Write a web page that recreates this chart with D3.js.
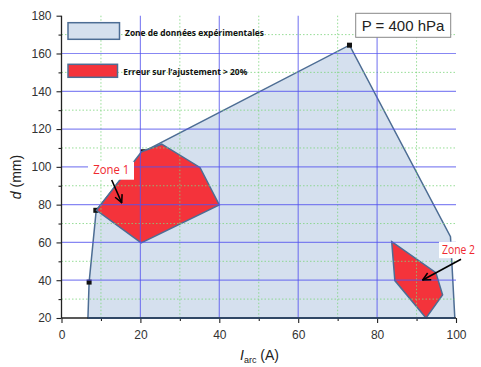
<!DOCTYPE html>
<html><head><meta charset="utf-8">
<script src="https://cdn.jsdelivr.net/npm/d3@7"></script>
<style>body{margin:0;background:#fff}svg{display:block}</style>
</head><body>
<svg id="c" width="481" height="367"></svg>
<script>
// ---- data ----
const xTicks = [0, 20, 40, 60, 80, 100];
const yTicks = [20, 40, 60, 80, 100, 120, 140, 160, 180];
const xMinor = [10, 30, 50, 70, 90];
const yMinor = [30, 50, 70, 90, 110, 130, 150, 170];
const expX = [6.7, 7.0, 8.8, 20.7, 73.0, 98.6, 99.7];
const expY = [20, 39, 77, 108, 164.4, 63, 20];
const markX = [7.0, 8.7, 20.7, 73.0];
const markY = [39, 77, 108, 164.4];
const zone1X = [8.9, 20.3, 25.4, 35.1, 40.0, 20.2];
const zone1Y = [77, 108, 112, 99.7, 79.8, 59.8];
const zone2X = [83.7, 94.9, 96.6, 92.4, 84.5];
const zone2Y = [60.4, 44, 32.2, 20, 39.8];
const legendLabels = ["Zone de données expérimentales", "Erreur sur l\u2019ajustement > 20%"];
const zoneLabels = ["Zone 1", "Zone 2"];

const svg = d3.select("#c");
const x = d3.scaleLinear().domain([0, 100]).range([61.5, 456]);
const y = d3.scaleLinear().domain([20, 180]).range([318, 15.7]);

const fillBlue = "#d5e0ee", strokeBlue = "#4d6d94", red = "#f4333b";

const pts = (xs, ys) => xs.map((v, i) => [x(v), y(ys[i])]);
const line = d3.line().curve(d3.curveLinearClosed);

// experimental zone
svg.append("path").attr("d", line(pts(expX, expY)))
  .attr("fill", fillBlue).attr("stroke", strokeBlue).attr("stroke-width", 1.5);

// markers
svg.append("g").selectAll("rect").data(markX).join("rect")
  .attr("x", (d) => x(d) - 2.5).attr("y", (d, i) => y(markY[i]) - 2.5)
  .attr("width", 5).attr("height", 5).attr("fill", "#111");

// red zones
[[zone1X, zone1Y], [zone2X, zone2Y]].forEach(([xs, ys]) => {
  svg.append("path").attr("d", line(pts(xs, ys)))
    .attr("fill", red).attr("stroke", strokeBlue).attr("stroke-width", 1.5);
});

// grid (over polygons, semi-transparent)
const g = svg.append("g");
g.selectAll(".vmin").data(xMinor).join("line")
  .attr("x1", d => x(d)).attr("x2", d => x(d)).attr("y1", y(180)).attr("y2", y(20))
  .attr("stroke", "#7ed67e").attr("stroke-width", 1).attr("stroke-dasharray", "1.5,2").attr("opacity", 0.8);
g.selectAll(".hmin").data(yMinor).join("line")
  .attr("x1", x(0)).attr("x2", x(100)).attr("y1", d => y(d)).attr("y2", d => y(d))
  .attr("stroke", "#7ed67e").attr("stroke-width", 1).attr("stroke-dasharray", "1.5,2").attr("opacity", 0.8);
g.selectAll(".vmaj").data(xTicks.filter(d => d > 0 && d < 100)).join("line")
  .attr("x1", d => x(d)).attr("x2", d => x(d)).attr("y1", y(180)).attr("y2", y(20))
  .attr("stroke", "#5555ee").attr("stroke-width", 1.2).attr("opacity", 0.7);
g.selectAll(".hmaj").data(yTicks.filter(d => d > 20 && d < 180)).join("line")
  .attr("x1", x(0)).attr("x2", x(100)).attr("y1", d => y(d)).attr("y2", d => y(d))
  .attr("stroke", "#5555ee").attr("stroke-width", 1.2).attr("opacity", 0.7);

// axes
const axFont = "Liberation Sans, Arial, sans-serif";
const ax = svg.append("g").attr("transform", `translate(0,${y(20)})`)
  .call(d3.axisBottom(x).tickValues(xTicks).tickSize(5).tickPadding(7).tickFormat(d3.format("d")));
const axm = svg.append("g").attr("transform", `translate(0,${y(20)})`)
  .call(d3.axisBottom(x).tickValues(xMinor).tickSize(3).tickFormat(""));
const ay = svg.append("g").attr("transform", `translate(${x(0)},0)`)
  .call(d3.axisLeft(y).tickValues(yTicks).tickSize(5).tickPadding(5).tickFormat(d3.format("d")));
const aym = svg.append("g").attr("transform", `translate(${x(0)},0)`)
  .call(d3.axisLeft(y).tickValues(yMinor).tickSize(3).tickFormat(""));
[ax, axm, ay, aym].forEach(a => {
  a.select(".domain").attr("stroke", "#222").attr("stroke-width", 1.3);
  a.selectAll(".tick line").attr("stroke", "#222").attr("stroke-width", 1.1);
  a.selectAll("text").attr("font-family", axFont).attr("font-size", 12).attr("fill", "#333");
});
ax.select(".domain").attr("d", `M${x(0)},0H${x(100)}`);
axm.select(".domain").remove();
aym.select(".domain").remove();
ay.select(".domain").attr("d", `M0,${y(20)}V${y(180)}`);
svg.append("line").attr("x1", x(expX[0])).attr("x2", x(expX[expX.length-1])).attr("y1", y(20)).attr("y2", y(20))
  .attr("stroke", "#2f4b70").attr("stroke-width", 1.3);

// axis titles
const yt = svg.append("text").attr("transform", `translate(21,177) rotate(-90)`)
  .attr("text-anchor", "middle").attr("font-family", axFont).attr("font-size", 14).attr("fill", "#222");
yt.append("tspan").attr("font-style", "italic").text("d");
yt.append("tspan").text("  (mm)");
const xt = svg.append("text").attr("x", 240).attr("y", 360)
  .attr("font-family", axFont).attr("font-size", 14).attr("fill", "#222");
xt.append("tspan").attr("font-style", "italic").text("I");
xt.append("tspan").attr("font-size", 9).attr("dy", 3).text("arc");
xt.append("tspan").attr("dy", -3).text(" (A)");

// legend
const legFont = "'Open Sans', 'Noto Sans', sans-serif";
svg.append("rect").attr("x", 68).attr("y", 22.7).attr("width", 51.5).attr("height", 16.6)
  .attr("fill", fillBlue).attr("stroke", strokeBlue).attr("stroke-width", 1.5);
svg.append("rect").attr("x", 68).attr("y", 64.3).attr("width", 49.5).attr("height", 13)
  .attr("fill", red).attr("stroke", strokeBlue).attr("stroke-width", 1.5);
svg.append("text").attr("x", 125).attr("y", 36).attr("font-family", legFont).attr("font-weight", "bold")
  .attr("font-size", 9).attr("fill", "#111").attr("textLength", 139).attr("lengthAdjust", "spacingAndGlyphs")
  .text(legendLabels[0]);
svg.append("text").attr("x", 123.3).attr("y", 75).attr("font-family", legFont).attr("font-weight", "bold")
  .attr("font-size", 9).attr("fill", "#111").attr("textLength", 124).attr("lengthAdjust", "spacingAndGlyphs")
  .text(legendLabels[1]);

// pressure box
svg.append("rect").attr("x", 355.7).attr("y", 13.3).attr("width", 95).attr("height", 24)
  .attr("fill", "#fff").attr("stroke", "#888").attr("stroke-width", 1);
svg.append("text").attr("x", 403).attr("y", 30.5).attr("text-anchor", "middle")
  .attr("font-family", axFont).attr("font-size", 15).attr("fill", "#222").text("P = 400 hPa");

// zone labels with white boxes and arrows
svg.append("defs").append("marker").attr("id", "ah").attr("viewBox", "0 0 10 10")
  .attr("refX", 9).attr("refY", 5).attr("markerWidth", 6).attr("markerHeight", 6).attr("orient", "auto")
  .append("path").attr("d", "M1,1L9,5L1,9").attr("fill", "none").attr("stroke", "#000").attr("stroke-width", 1.6);
svg.append("rect").attr("x", 88).attr("y", 161.7).attr("width", 46).attr("height", 18).attr("fill", "#fff");
svg.append("rect").attr("x", 439).attr("y", 241.7).attr("width", 42).attr("height", 16.5).attr("fill", "#fff");
svg.append("text").attr("x", 93.3).attr("y", 173.8).attr("font-family", legFont).attr("font-size", 12)
  .attr("fill", "#f0282f").attr("textLength", 36).attr("lengthAdjust", "spacingAndGlyphs").text(zoneLabels[0]);
svg.append("text").attr("x", 442).attr("y", 253.5).attr("font-family", legFont).attr("font-size", 12)
  .attr("fill", "#f0282f").attr("textLength", 33).attr("lengthAdjust", "spacingAndGlyphs").text(zoneLabels[1]);
svg.append("line").attr("x1", 461).attr("y1", 259.3).attr("x2", 422.7).attr("y2", 280)
  .attr("stroke", "#000").attr("stroke-width", 1.6).attr("marker-end", "url(#ah)");
svg.append("line").attr("x1", 111.7).attr("y1", 180).attr("x2", 121.7).attr("y2", 202.7)
  .attr("stroke", "#000").attr("stroke-width", 1.6).attr("marker-end", "url(#ah)");
</script>
</body></html>
